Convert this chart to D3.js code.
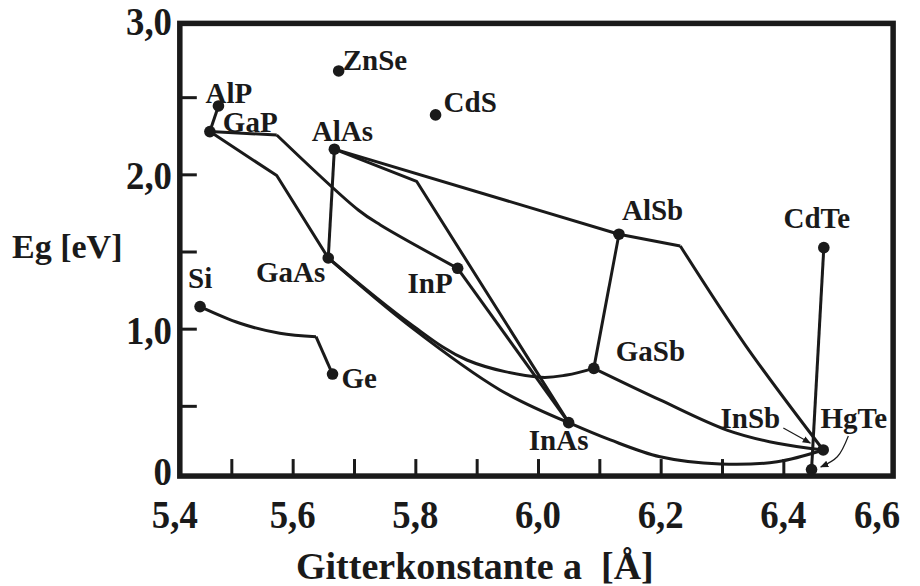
<!DOCTYPE html>
<html lang="de">
<head>
<meta charset="UTF-8">
<title>Bandlücke über Gitterkonstante</title>
<script src="https://d3js.org/d3.v7.min.js"></script>
<style>
    body { margin: 0; background: #fff; }
    svg text { font-family: "Liberation Serif", "Times New Roman", serif; font-weight: bold; fill: #1a1a1a; white-space: pre; }
</style>
</head>
<body>
<svg width="920" height="586"></svg>
<script>
// Halbleiter: Gitterkonstante a [Å] und Bandlücke Eg [eV]
const compounds = ["Si", "Ge", "AlP", "GaP", "ZnSe", "CdS", "AlAs", "GaAs", "InP", "AlSb", "CdTe", "GaSb", "InAs", "InSb", "HgTe"];
const lattice   = [5.449, 5.665, 5.479, 5.465, 5.675, 5.833, 5.668, 5.658, 5.869, 6.132, 6.466, 6.091, 6.050, 6.465, 6.446];
const gap       = [1.143, 0.706, 2.443, 2.277, 2.670, 2.385, 2.163, 1.458, 1.391, 1.612, 1.525, 0.743, 0.391, 0.214, 0.087];

// Mischkristall-Kurven als [a, Eg]-Punkte
const siGeA   = [[5.449, 1.143], [5.514, 1.035], [5.579, 0.970], [5.638, 0.948]];
const siGeB   = [[5.638, 0.948], [5.665, 0.706]];
const alpGap  = [[5.479, 2.443], [5.465, 2.277]];
const gapInpA = [[5.465, 2.277], [5.574, 2.255]];
const gapInpB = [[5.574, 2.255], [5.707, 1.769], [5.743, 1.672], [5.869, 1.391]];
const gapGaas = [[5.465, 2.277], [5.574, 1.992], [5.658, 1.458]];
const alasGaas = [[5.668, 2.163], [5.658, 1.458]];
const alasInas = [[5.668, 2.163], [5.802, 1.955], [6.050, 0.391]];
const alasAlsb = [[5.668, 2.163], [6.132, 1.612]];
const alsbInsbA = [[6.132, 1.612], [6.232, 1.536]];
const alsbInsbB = [[6.232, 1.536], [6.338, 0.894], [6.465, 0.214]];
const alsbGasb = [[6.132, 1.612], [6.091, 0.743]];
const gaasInas = [[5.658, 1.458], [5.792, 1.013], [5.938, 0.603], [6.050, 0.391]];
const gaasGasb = [[5.658, 1.458], [5.792, 1.030], [5.884, 0.797], [6.004, 0.685], [6.047, 0.700], [6.091, 0.743]];
const inpInas  = [[5.869, 1.391], [6.050, 0.391]];
const gasbInsb = [[6.091, 0.743], [6.199, 0.538], [6.308, 0.343], [6.390, 0.257], [6.465, 0.214]];
const inasInsb = [[6.050, 0.391], [6.118, 0.279], [6.199, 0.170], [6.297, 0.123], [6.390, 0.138], [6.465, 0.214]];
const cdteHgte = [[6.466, 1.525], [6.446, 0.087]];

const straightLines = [siGeB, alpGap, gapInpA, gapGaas, alasGaas, alasInas, alasAlsb, alsbInsbA, alsbGasb, inpInas, cdteHgte];
const smoothLines   = [siGeA, gapInpB, alsbInsbB, gaasInas, gaasGasb, gasbInsb, inasInsb];

// Achsen
const xTicks = [5.5, 5.6, 5.7, 5.8, 5.9, 6.0, 6.1, 6.2, 6.3, 6.4];
const xTickLabels = [5.4, 5.6, 5.8, 6.0, 6.2, 6.4, 6.6];
const yTicks = [0.5, 1.0, 1.5, 2.0, 2.5];
const yTickLabels = [0, 1, 2, 3];
const frameA = [5.416, 6.579];
const frameE = [0.045, 2.978];

// Beschriftungs-Versatz (px) relativ zum Punkt
const labelPos = {
    Si: [-12, -19, "start"], Ge: [9, 14, "start"], AlP: [-13, -3, "start"], GaP: [13, 0, "start"],
    ZnSe: [4, -1, "start"], CdS: [8, -3, "start"], AlAs: [8, -8, "middle"], GaAs: [-3, 24, "end"],
    InP: [-5, 25, "end"], AlSb: [3, -14, "start"], CdTe: [-7, -20, "middle"], GaSb: [22, -7, "start"],
    InAs: [-10, 27, "middle"], InSb: [-43, -22, "end"], HgTe: [9, -42, "start"]
};

const svg = d3.select("svg");
const x = d3.scaleLinear().domain([5.4, 6.6]).range([170, 906]);
const y = d3.scaleLinear().domain([0, 3]).range([483, 20]);
const ink = "#1a1a1a";
const comma = v => v === 0 ? "0" : d3.format(".1f")(v).replace(".", ",");

const x0 = x(frameA[0]), x1 = x(frameA[1]), yTop = y(frameE[1]), yBot = y(frameE[0]);

// Rahmen
svg.append("rect")
    .attr("x", x0).attr("y", yTop)
    .attr("width", x1 - x0).attr("height", yBot - yTop)
    .attr("fill", "none").attr("stroke", ink).attr("stroke-width", 5.5);

// Teilstriche nach innen
svg.append("g")
    .attr("transform", `translate(0,${yBot})`)
    .call(d3.axisBottom(x).tickValues(xTicks).tickSize(-17).tickFormat(""))
    .call(g => g.select(".domain").remove())
    .call(g => g.selectAll("line").attr("stroke", ink).attr("stroke-width", 3));

svg.append("g")
    .attr("transform", `translate(${x0},0)`)
    .call(d3.axisLeft(y).tickValues(yTicks).tickSize(-17).tickFormat(""))
    .call(g => g.select(".domain").remove())
    .call(g => g.selectAll("line").attr("stroke", ink).attr("stroke-width", 3));

// Achsenbeschriftung
svg.selectAll(".xl").data(xTickLabels).enter().append("text")
    .attr("class", "xl")
    .attr("transform", d => `translate(${Math.min(Math.max(x(d), x0 - 5), x1 - 16)},528) scale(0.92,1)`)
    .attr("text-anchor", "middle")
    .attr("font-size", 40)
    .text(comma);

svg.selectAll(".yl").data(yTickLabels).enter().append("text")
    .attr("class", "yl")
    .attr("transform", d => `translate(172,${Math.min(y(d) + 15, yBot + 9)}) scale(0.92,1)`)
    .attr("text-anchor", "end")
    .attr("font-size", 40)
    .text(comma);

svg.append("text")
    .attr("x", 12).attr("y", 258)
    .attr("font-size", 34)
    .text("Eg [eV]");

svg.append("text")
    .attr("x", 296).attr("y", 579)
    .attr("font-size", 38)
    .text("Gitterkonstante a  [Å]");

// Kurven
const line = d3.line().x(d => x(d[0])).y(d => y(d[1]));
const smooth = d3.line().x(d => x(d[0])).y(d => y(d[1])).curve(d3.curveCatmullRom.alpha(0.5));

svg.append("g").selectAll("path").data(straightLines).enter().append("path")
    .attr("d", line).attr("fill", "none").attr("stroke", ink)
    .attr("stroke-width", 3).attr("stroke-linejoin", "round");

svg.append("g").selectAll("path").data(smoothLines).enter().append("path")
    .attr("d", smooth).attr("fill", "none").attr("stroke", ink)
    .attr("stroke-width", 3).attr("stroke-linejoin", "round");

// Punkte
svg.append("g").selectAll("circle").data(compounds).enter().append("circle")
    .attr("cx", (d, i) => x(lattice[i]))
    .attr("cy", (d, i) => y(gap[i]))
    .attr("r", 5.8)
    .attr("fill", ink);

svg.append("g").selectAll("text").data(compounds).enter().append("text")
    .attr("x", (d, i) => x(lattice[i]) + labelPos[d][0])
    .attr("y", (d, i) => y(gap[i]) + labelPos[d][1])
    .attr("text-anchor", d => labelPos[d][2])
    .attr("font-size", 29)
    .text(d => d);

// Pfeile zu InSb und HgTe
svg.append("defs").append("marker")
    .attr("id", "arr").attr("viewBox", "0 0 10 10").attr("refX", 9).attr("refY", 5)
    .attr("markerWidth", 7).attr("markerHeight", 7).attr("orient", "auto")
    .append("path").attr("d", "M0,1 L10,5 L0,9 Z").attr("fill", ink);

const insbArrow = [[6.400, 0.357], [6.444, 0.259]];
const hgteArrow = [[6.506, 0.305], [6.488, 0.170], [6.461, 0.104]];

svg.append("path").attr("d", line(insbArrow))
    .attr("fill", "none").attr("stroke", ink).attr("stroke-width", 1.2)
    .attr("marker-end", "url(#arr)");
svg.append("path").attr("d", smooth(hgteArrow))
    .attr("fill", "none").attr("stroke", ink).attr("stroke-width", 1.2)
    .attr("marker-end", "url(#arr)");
</script>
</body>
</html>
